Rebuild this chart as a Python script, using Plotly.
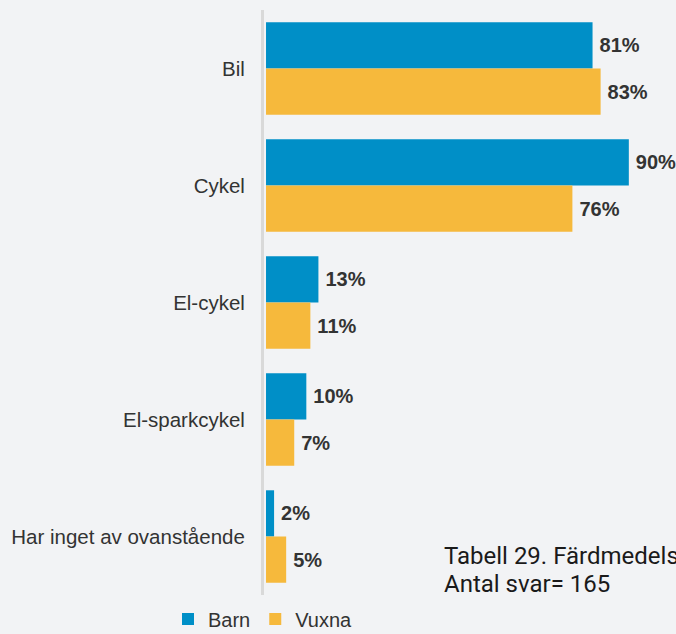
import plotly.graph_objects as go

# Survey categories and shares (percent) per group
categories = ["Bil", "Cykel", "El-cykel", "El-sparkcykel", "Har inget av ovanstående"]
barn = [81, 90, 13, 10, 2]
vuxna = [83, 76, 11, 7, 5]
series_names = ["Barn", "Vuxna"]
note_lines = ["Tabell 29. Färdmedelsinnehav", "Antal svar= 165"]

BLUE = "#008FC7"
YELLOW = "#F6B93C"
BG = "#F2F3F5"
TXT = "#333333"

W, H = 676, 634
L, T, B = 264, 10, 39
PW, PH = W - L, H - T - B


def py(pix):
    # pixel row -> paper y
    return (H - B - pix) / PH


def px(pix):
    # pixel column -> paper x
    return (pix - L) / PW


fig = go.Figure()
for name, vals, col in zip(series_names, [barn, vuxna], [BLUE, YELLOW]):
    fig.add_trace(go.Bar(
        y=categories, x=vals, name=name, orientation="h",
        marker=dict(color=col, line=dict(width=0)),
        text=[f"\u2009{v}%" for v in vals], textposition="outside",
        textfont=dict(family="Liberation Sans, Arial", size=20, color=TXT, weight="bold"),
        cliponaxis=False,
    ))

fig.update_layout(
    width=W, height=H,
    margin=dict(l=L, r=0, t=T, b=B, autoexpand=False),
    paper_bgcolor=BG, plot_bgcolor=BG,
    barmode="group", bargap=0.21, bargroupgap=0,
    showlegend=True,
    legend=dict(orientation="h", x=px(168), xanchor="left", y=py(619), yanchor="middle",
                font=dict(family="Liberation Sans, Arial", size=20, color=TXT),
                itemwidth=30, bgcolor="rgba(0,0,0,0)", tracegroupgap=0),
    xaxis=dict(range=[-0.5, 101.7], visible=False, fixedrange=True),
    yaxis=dict(autorange="reversed", showline=True, linecolor="#D9D9D9", linewidth=3,
               ticks="", showgrid=False, ticklabelstandoff=12,
               tickfont=dict(family="Liberation Sans, Arial", size=20.5, color=TXT)),
    font=dict(family="Liberation Sans, Arial"),
)

for line, row in zip(note_lines, [556, 584]):
    fig.add_annotation(
        text=line, xref="paper", yref="paper",
        x=px(442), y=py(row), xanchor="left", yanchor="middle",
        align="left", showarrow=False,
        font=dict(family="Roboto", size=24, color="#1A1A1A"),
    )

fig.write_html("out.html")
